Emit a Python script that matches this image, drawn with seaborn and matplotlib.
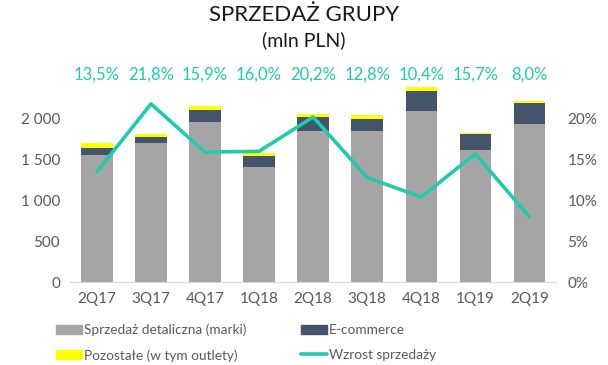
import numpy as np
import pandas as pd
import matplotlib
matplotlib.use("Agg")
import matplotlib.pyplot as plt
import seaborn as sns
from matplotlib.patches import Patch
from matplotlib.lines import Line2D

# data (mln PLN)
quarters = ["2Q17", "3Q17", "4Q17", "1Q18", "2Q18", "3Q18", "4Q18", "1Q19", "2Q19"]
retail = [1557, 1700, 1959, 1411, 1849, 1849, 2092, 1618, 1934]
ecommerce = [85, 73, 142, 126, 174, 146, 244, 191, 256]
other = [61, 44, 52, 45, 33, 53, 48, 20, 24]
growth = [13.5, 21.8, 15.9, 16.0, 20.2, 12.8, 10.4, 15.7, 8.0]

GREY = "#A5A5A5"
NAVY = "#44546A"
YELLOW = "#FFFF00"
TEAL = "#1FCBAA"
TXT = "#595959"

sns.set_style("white")
plt.rcParams["font.family"] = ["Lato", "DejaVu Sans"]

df = pd.DataFrame({"quarter": quarters, "retail": retail,
                   "ecommerce": ecommerce, "other": other})
df["lvl2"] = df["retail"] + df["ecommerce"]
df["lvl3"] = df["lvl2"] + df["other"]

fig = plt.figure(figsize=(6.08, 3.65), dpi=100)
ax = fig.add_axes([0.115, 0.227, 0.8, 0.56])

# stacked bars drawn as overlapping cumulative totals
sns.barplot(data=df, x="quarter", y="lvl3", color=YELLOW, width=0.58, ax=ax, saturation=1, linewidth=0)
sns.barplot(data=df, x="quarter", y="lvl2", color=NAVY, width=0.58, ax=ax, saturation=1, linewidth=0)
sns.barplot(data=df, x="quarter", y="retail", color=GREY, width=0.58, ax=ax, saturation=1, linewidth=0)

ax.set_ylim(0, 2500)
ax.set_xlim(-0.5, 8.5)
ax.set_yticks([0, 500, 1000, 1500, 2000])
ax.set_yticklabels(["0", "500", "1 000", "1 500", "2 000"])
ax.set_xlabel("")
ax.set_ylabel("")
for s in ["top", "right", "left"]:
    ax.spines[s].set_visible(False)
ax.spines["bottom"].set_color("#D9D9D9")
ax.tick_params(axis="both", length=0, labelsize=11, colors=TXT, pad=7)

ax2 = ax.twinx()
sns.lineplot(x=np.arange(len(quarters)), y=growth, color=TEAL, linewidth=2.6, ax=ax2)
ax2.set_ylim(0, 25)
ax2.set_yticks([0, 5, 10, 15, 20])
ax2.set_yticklabels([f"{v}%" for v in [0, 5, 10, 15, 20]])
for s in ["top", "right", "left", "bottom"]:
    ax2.spines[s].set_visible(False)
ax2.tick_params(axis="y", length=0, labelsize=11, colors=TXT, pad=8)

for i, g in enumerate(growth):
    ax.text(i, 1.015, f"{g:.1f}%".replace(".", ","), transform=ax.get_xaxis_transform(),
            ha="center", va="center", fontsize=12, color=TEAL)

fig.text(0.5, 0.96, "SPRZEDAŻ GRUPY", ha="center", va="center", fontsize=16, color="#1a1a1a")
fig.text(0.5, 0.89, "(mln PLN)", ha="center", va="center", fontsize=14, color="#1a1a1a")

handles = [Patch(color=GREY), Patch(color=YELLOW), Patch(color=NAVY),
           Line2D([0], [0], color=TEAL, lw=2.6)]
labels = ["Sprzedaż detaliczna (marki)", "Pozostałe (w tym outlety)",
          "E-commerce", "Wzrost sprzedaży"]
fig.legend(handles, labels, ncol=2, loc="lower left", bbox_to_anchor=(0.072, -0.024),
           frameon=False, fontsize=9.8, labelcolor=TXT, handlelength=1.9, handleheight=0.6,
           handletextpad=0.15, columnspacing=4.0, labelspacing=0.95)

fig.savefig("out.png", dpi=100)
